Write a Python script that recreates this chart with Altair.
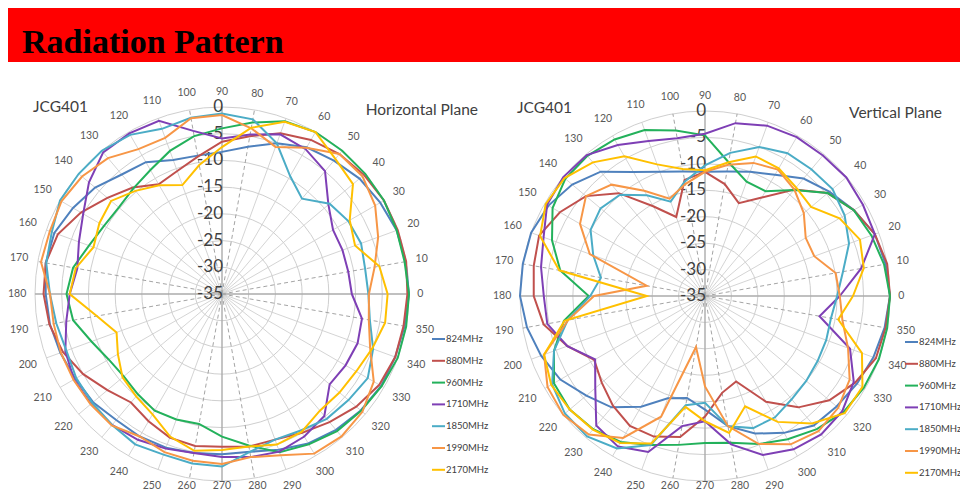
import altair as alt
import pandas as pd

# ---------------- data ----------------
ANGLES = list(range(0, 360, 10))
FREQS = ["824MHz", "880MHz", "960MHz", "1710MHz", "1850MHz", "1990MHz", "2170MHz"]
COLORS = ["#4F81BD", "#C0504D", "#23B15B", "#7E3FB5", "#4BACC6", "#F79646", "#FFC000"]
RINGS = [-35, -30, -25, -20, -15, -10, -5, 0]

# Horizontal plane (dB at 0,10,...,350 deg)
H_824 = [0, -0.1, -0.2, -0.8, -1.4, -2.4, -3.3, -5, -7, -8.4, -8.7, -8.3, -6.5, -5.8, -4, -2.8, -1.6, -1.5,
         -2, -2.3, -2.8, -3.3, -3.5, -4.2, -4.2, -4.4, -4.8, -5, -5, -4, -2.7, -1.8, -1.1, -0.6, -0.5, -0.3]
H_880 = [-0.3, 0, 0, 0, -0.3, -0.8, -1.7, -3, -5, -6.5, -8.9, -10.5, -11.3, -9, -7, -4.5, -2.3, -1.5,
         -1.6, -2.2, -3.3, -5, -7, -8.5, -7.5, -6.4, -6.1, -6.4, -6, -6, -5, -3.7, -2.2, -1, -0.5, -0.5]
H_960 = [0, -0.3, -0.2, 0, 0, 0, 0, -0.6, -2.4, -4, -5, -6.5, -8.2, -9.2, -9.8, -9.5, -8.5, -6.7,
         -5.9, -6.7, -9, -10.5, -11, -10.5, -9.8, -10, -10.3, -8.3, -6.2, -3.5, -2.5, -1.5, -1, -0.5, 0, 0]
H_1710 = [-10.7, -11, -11, -11, -9, -5, -3.7, -3.2, -4.7, -5.9, -4, -0.5, -0.3, -0.4, -2.5, -5, -6.5, -7.5,
          -6.5, -5.4, -3.8, -3, -3, -3, -3.5, -4.2, -4.8, -4.5, -4, -3.6, -4.2, -5.2, -8.7, -8.3, -8, -8.4]
H_1850 = [-7.6, -7.8, -7.3, -7.7, -8.7, -11.7, -9.5, -5, -1.8, -1.2, -1.5, -2.1, -0.6, 0, 0, 0, -1.1, -1.6,
          -2.8, -3.5, -4, -3.5, -3.3, -3, -2.5, -3, -2.8, -2.7, -5, -6, -5.5, -4.5, -4.1, -3.5, -4.9, -6.9]
H_1990 = [-7.5, -6, -3.9, -1.9, -0.7, -0.8, -3.4, -5.7, -3.5, -1.5, -1.6, -3.9, -3.7, -1.8, -0.8, -0.3, -0.7, -0.6,
          -2.8, -3, -2.9, -2.9, -2.9, -2.9, -4.2, -3.5, -3.3, -3.2, -4, -2.9, -0.5, -0.2, -0.7, -2.2, -5.5, -7.1]
H_2170 = [-4, -5.1, -8.5, -7.4, -3, -2, 0, -0.7, -3.4, -7.5, -10.5, -13.3, -11.5, -9.8, -7.9, -8.5, -9.4, -7.2,
          -6.5, -11.2, -14, -12.5, -10.7, -10, -9, -6.6, -5.2, -5.8, -6, -5, -5.2, -6.5, -6.3, -6, -5.1, -4]

# Vertical plane
V_824 = [0, -0.3, -0.8, -2.5, -4.3, -6, -8.5, -10, -11.1, -11.5, -11.1, -10, -7.9, -4.3, -2.2, -0.8, 0, 0,
         0, -0.8, -2, -3.4, -5.7, -7.5, -10.8, -14.4, -15.4, -13.5, -10, -7.3, -5.1, -3, -2.5, -1.8, -1.1, -0.5]
V_880 = [0, 0, -0.8, -2.5, -4.7, -8.7, -13.5, -16.3, -13.5, -11.5, -12.7, -19.1, -15.4, -9.6, -5.6, -3.3, -1.6, -2.1,
         -2.6, -4, -7.3, -10.8, -9.5, -7.9, -6.6, -6.7, -7.9, -12.2, -16.4, -17.8, -11.9, -7.5, -4.3, -2.2, -0.6, -0.3]
V_960 = [0, -0.6, -1.5, -2.5, -4.7, -8.8, -12.1, -12, -9.3, -4.6, -3.2, -1.6, -0.8, -0.4, -0.5, -1.7, -4.2, -7.2,
         -13, -7.9, -4.6, -2, -1.6, -2.1, -3.1, -5, -6.4, -7.2, -6.8, -5.2, -3.7, -2.1, -0.8, -0.3, 0, 0]
V_1710 = [-9.5, -5, -0.8, -0.5, -0.1, -0.3, -0.3, -0.7, -1.8, -4.3, -4.7, -3.8, -2, -0.2, 0, -0.5, -2.5, -3.5,
          -4.5, -4.7, -7.3, -11, -7.9, -3, -2.1, -3.6, -10, -11.3, -6.5, -3, -1.5, -0.8, -1.1, -2.5, -5.8, -13]
V_1850 = [-10, -8.5, -6, -4.5, -3.5, -3.7, -3.8, -5, -7.5, -10.3, -13, -16, -13, -10, -9.2, -10, -12.5, -15,
          -13.3, -8.6, -4.6, -1.6, -0.4, -0.3, -1.7, -5, -14, -14.8, -10, -8.4, -8.5, -9.5, -10, -10.4, -10.6, -10.8]
V_1990 = [-9.5, -9.9, -13, -13, -10.6, -8.7, -7.4, -8.2, -9.8, -11.5, -13.5, -15.4, -12, -7.5, -5.6, -7.7, -11.8, -23.8,
          -14, -8.7, -2.6, -0.6, 0, -0.8, -4, -10.7, -25.2, -17.9, -10, -5.2, -2.6, -1.6, -2.1, -3.4, -6.2, -8.6]
V_2170 = [-7, -4.5, -3.8, -5.6, -8.8, -8.2, -7.1, -6.9, -9.3, -11.2, -10.6, -8.5, -4.5, -2, -0.3, -0.2, -1.8, -7,
          -24, -8, -2.6, -1.4, -1.6, -2, -2.9, -5.3, -13.7, -11.3, -8.7, -12.8, -7.5, -3.5, -0.5, -0.6, -3.4, -9.4]

HORIZONTAL = [H_824, H_880, H_960, H_1710, H_1850, H_1990, H_2170]
VERTICAL = [V_824, V_880, V_960, V_1710, V_1850, V_1990, V_2170]

TITLE = "Radiation Pattern"
MODEL = "JCG401"
PLANE_TITLES = {"Horizontal": "Horizontal Plane", "Vertical": "Vertical Plane"}

# ---------------- layout (page pixel coordinates) ----------------
LAYOUT = {
    "Horizontal": dict(cx=222, cy=294, R=187, mx=33, my=107, tx=478, ty=110, lx=432, ly=339),
    "Vertical": dict(cx=705, cy=296, R=185, mx=517, my=108, tx=942, ty=113, lx=905, ly=342),
}
W, H = 952, 484
FONT = "Lato"
LABEL_MAX_Y = 8 + H - 6   # keep the lowest angle labels inside the canvas

XS = alt.Scale(domain=[8, 8 + W], nice=False, zero=False)
YS = alt.Scale(domain=[8, 8 + H], nice=False, zero=False, reverse=True)


def X(f):
    return alt.X(f"{f}:Q", scale=XS, axis=None)


def Y(f):
    return alt.Y(f"{f}:Q", scale=YS, axis=None)


# ---------------- tables ----------------
line_rows, ring_rows, spoke_rows, rlab_rows, alab_rows, leg_rows, title_rows = [], [], [], [], [], [], []
for plane, series in (("Horizontal", HORIZONTAL), ("Vertical", VERTICAL)):
    p = LAYOUT[plane]
    base = dict(plane=plane, cx=p["cx"], cy=p["cy"], R=p["R"])
    for f, vals in zip(FREQS, series):
        for i, (a, v) in enumerate(zip(ANGLES + [360], vals + vals[:1])):
            line_rows.append(dict(base, freq=f, idx=i, angle=a, db=v))
    for d in RINGS[1:]:
        ring_rows.append(dict(base, db=d))
    for a in ANGLES:
        kind = "axis" if a % 90 == 0 else ("dash" if a % 90 in (10, 80) else "plain")
        spoke_rows.append(dict(base, angle=a, kind=kind))
        alab_rows.append(dict(base, angle=a, label=str(a)))
    for d in RINGS:
        rlab_rows.append(dict(base, db=d, label=str(d)))
    for i, f in enumerate(FREQS):
        leg_rows.append(dict(plane=plane, freq=f, x=p["lx"], x2=p["lx"] + 13, tx=p["lx"] + 14,
                             y=p["ly"] + i * 21.8))
    title_rows.append(dict(x=p["mx"], y=p["my"], text=MODEL, align="left"))
    title_rows.append(dict(x=p["tx"], y=p["ty"], text=PLANE_TITLES[plane], align="right"))

lines_df = pd.DataFrame(line_rows)
rings_df = pd.DataFrame(ring_rows)
spokes_df = pd.DataFrame(spoke_rows)
rlab_df = pd.DataFrame(rlab_rows)
alab_df = pd.DataFrame(alab_rows)
leg_df = pd.DataFrame(leg_rows)
title_df = pd.DataFrame(title_rows)
one = pd.DataFrame({"k": [0]})

color = alt.Color("freq:N", scale=alt.Scale(domain=FREQS, range=COLORS), legend=None)

# ---------------- layers ----------------
banner = alt.Chart(one).mark_rect(color="#FF0000").encode(
    x=alt.value(0), x2=alt.value(W), y=alt.value(0), y2=alt.value(54))
banner_text = alt.Chart(one).mark_text(
    font="Liberation Serif", fontWeight="bold", fontSize=34, align="left", baseline="alphabetic",
    color="#000000", text=TITLE).encode(x=alt.value(14), y=alt.value(45))

rings = alt.Chart(rings_df).mark_point(
    shape="circle", filled=False, stroke="#cfcfcf", strokeWidth=1, opacity=1).transform_calculate(
    size="pow(2*datum.R*(datum.db+35)/35, 2)").encode(
    x=X("cx"), y=Y("cy"), size=alt.Size("size:Q", scale=None, legend=None))

spoke_calc = dict(ex="datum.cx + datum.R*cos(datum.angle*PI/180)",
                  ey="datum.cy - datum.R*sin(datum.angle*PI/180)")
spokes_plain = alt.Chart(spokes_df).transform_filter("datum.kind == 'plain'").transform_calculate(
    **spoke_calc).mark_rule(color="#cfcfcf", strokeWidth=0.9).encode(
    x=X("cx"), y=Y("cy"), x2="ex:Q", y2="ey:Q")
spokes_dash = alt.Chart(spokes_df).transform_filter("datum.kind == 'dash'").transform_calculate(
    **spoke_calc).mark_rule(color="#9a9a9a", strokeWidth=0.9, strokeDash=[4, 3]).encode(
    x=X("cx"), y=Y("cy"), x2="ex:Q", y2="ey:Q")
spokes_axis = alt.Chart(spokes_df).transform_filter("datum.kind == 'axis'").transform_calculate(
    **spoke_calc).mark_rule(color="#ababab", strokeWidth=1.4).encode(
    x=X("cx"), y=Y("cy"), x2="ex:Q", y2="ey:Q")

rlabels = alt.Chart(rlab_df).transform_calculate(
    lx="datum.cx + 1", ly="datum.cy - datum.R*(datum.db+35)/35").mark_text(
    font=FONT, fontSize=17, align="right", baseline="middle", color="#3f3f3f").encode(
    x=X("lx"), y=Y("ly"), text="label:N")

series = alt.Chart(lines_df).transform_calculate(
    rr="datum.R*(datum.db+35)/35").transform_calculate(
    px="datum.cx + datum.rr*cos(datum.angle*PI/180)",
    py="datum.cy - datum.rr*sin(datum.angle*PI/180)").mark_line(strokeWidth=2).encode(
    x=X("px"), y=Y("py"), color=color, detail="plane:N", order="idx:Q")

alabels = alt.Chart(alab_df).transform_calculate(
    lr="datum.R + 8 + abs(cos(datum.angle*PI/180))*3.3*length(datum.label) + abs(sin(datum.angle*PI/180))*7"
).transform_calculate(
    ax="datum.cx + datum.lr*cos(datum.angle*PI/180)",
    ay=f"min({LABEL_MAX_Y}, datum.cy - datum.lr*sin(datum.angle*PI/180))").mark_text(
    font=FONT, fontSize=10.5, align="center", baseline="middle", color="#595959").encode(
    x=X("ax"), y=Y("ay"), text="label:N")

leg_lines = alt.Chart(leg_df).mark_rule(strokeWidth=2).encode(
    x=X("x"), x2="x2:Q", y=Y("y"), color=color)
leg_text = alt.Chart(leg_df).mark_text(
    font=FONT, fontSize=9.5, align="left", baseline="middle", color="#404040").encode(
    x=X("tx"), y=Y("y"), text="freq:N")

titles_l = alt.Chart(title_df).transform_filter("datum.align == 'left'").mark_text(
    font=FONT, fontSize=15.5, align="left", baseline="middle", color="#404040").encode(
    x=X("x"), y=Y("y"), text="text:N")
titles_r = alt.Chart(title_df).transform_filter("datum.align == 'right'").mark_text(
    font=FONT, fontSize=15.5, align="right", baseline="middle", color="#404040").encode(
    x=X("x"), y=Y("y"), text="text:N")

chart = alt.layer(
    banner, banner_text, rings, spokes_plain, spokes_dash, spokes_axis, rlabels,
    series, alabels, leg_lines, leg_text, titles_l, titles_r
).properties(
    width=W, height=H, padding=0, autosize=alt.AutoSizeParams(type="none")
).configure_view(stroke=None)

chart.save("out.html", embed_options={"renderer": "svg", "actions": False})
